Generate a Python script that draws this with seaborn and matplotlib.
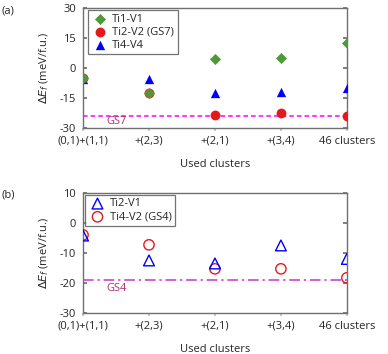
import matplotlib
matplotlib.use("Agg")
import matplotlib.pyplot as plt
import seaborn as sns
import pandas as pd

categories = ["(0,1)+(1,1)", "+(2,3)", "+(2,1)", "+(3,4)", "46 clusters"]

# panel (a)
a_ti1_v1 = [-5.0, -12.5, 4.5, 5.0, 12.5]
a_ti2_v2 = [-5.0, -12.5, -23.5, -22.5, -24.0]
a_ti4_v4 = [-5.5, -5.5, -12.5, -12.0, -10.0]
gs7_level = -24.0

# panel (b)
b_ti2_v1 = [-4.2, -12.5, -13.5, -7.5, -12.0]
b_ti4_v2 = [-4.0, -7.3, -15.3, -15.3, -18.3]
gs4_level = -19.0

sns.set_theme(style="white")
plt.rcParams['font.family'] = ['Open Sans', 'DejaVu Sans']
plt.rcParams['mathtext.fontset'] = 'dejavusans'

fig = plt.figure(figsize=(3.88, 3.54), dpi=100)
axA = fig.add_axes([0.214, 0.638, 0.680, 0.339])
axB = fig.add_axes([0.214, 0.116, 0.680, 0.339])

spine_col = "#707070"
fs = 8

def style_axes(ax, yticks):
    ax.set_xlim(0, 4)
    ax.set_xticks(range(len(categories)))
    ax.set_xticklabels(categories, fontsize=fs)
    ax.set_yticks(yticks)
    ax.set_yticklabels([str(t) for t in yticks], fontsize=fs)
    ax.set_ylim(yticks[0], yticks[-1])
    for s in ax.spines.values():
        s.set_color(spine_col)
        s.set_linewidth(1.0)
    ax.tick_params(axis='y', direction='in', length=3, color=spine_col,
                   left=True, right=True, pad=5)
    ax.tick_params(axis='x', direction='out', length=2, color="#c0c0c0",
                   bottom=True, pad=3.5)
    ax.set_xlabel("Used clusters", fontsize=fs, labelpad=9)
    ax.set_ylabel(r"$\Delta E_f$ (meV/f.u.)", fontsize=fs, labelpad=6)

# ---- panel (a)
dfa = pd.DataFrame({"cat": categories, "Ti1-V1": a_ti1_v1,
                    "Ti2-V2 (GS7)": a_ti2_v2, "Ti4-V4": a_ti4_v4})
axA.axhline(gs7_level, color="#ff00ff", lw=1.1, ls=(0, (3, 2)), zorder=1)
sns.scatterplot(data=dfa, x="cat", y="Ti4-V4", ax=axA, marker="^",
                color="#0000ff", s=45, linewidth=0, zorder=3, label="Ti4-V4")
sns.scatterplot(data=dfa, x="cat", y="Ti2-V2 (GS7)", ax=axA, marker="o",
                color="#e31a1c", s=50, linewidth=0, zorder=4, label="Ti2-V2 (GS7)")
sns.scatterplot(data=dfa, x="cat", y="Ti1-V1", ax=axA, marker="D",
                color="#4e9a3a", s=32, linewidth=0, zorder=5, label="Ti1-V1")
style_axes(axA, [-30, -15, 0, 15, 30])
axA.text(0.35, -27.8, "GS7", color="#b03070", fontsize=fs)
handles, labels = axA.get_legend_handles_labels()
order = [labels.index("Ti1-V1"), labels.index("Ti2-V2 (GS7)"), labels.index("Ti4-V4")]
legA = axA.legend([handles[i] for i in order], [labels[i] for i in order],
                  loc="upper left", bbox_to_anchor=(0.01, 1.0), fontsize=fs,
                  frameon=True, fancybox=False, edgecolor="#505050",
                  handletextpad=0.3, borderpad=0.3, labelspacing=0.2,
                  handlelength=1.6, borderaxespad=0.2)
legA.get_frame().set_linewidth(0.9)

# ---- panel (b)
dfb = pd.DataFrame({"cat": categories, "Ti2-V1": b_ti2_v1, "Ti4-V2 (GS4)": b_ti4_v2})
axB.axhline(gs4_level, color="#cc33cc", lw=1.1, ls=(0, (7, 2.5, 1.5, 2.5)), zorder=1)
sns.scatterplot(data=dfb, x="cat", y="Ti4-V2 (GS4)", ax=axB, marker="o",
                facecolors="none", edgecolor="#e31a1c", linewidth=1.0, s=55,
                zorder=3, label="Ti4-V2 (GS4)")
sns.scatterplot(data=dfb, x="cat", y="Ti2-V1", ax=axB, marker="^",
                facecolors="none", edgecolor="#0000ff", linewidth=1.0, s=60,
                zorder=4, label="Ti2-V1")
style_axes(axB, [-30, -20, -10, 0, 10])
axB.text(0.36, -22.6, "GS4", color="#b03070", fontsize=fs)
handles, labels = axB.get_legend_handles_labels()
order = [labels.index("Ti2-V1"), labels.index("Ti4-V2 (GS4)")]
legB = axB.legend([handles[i] for i in order], [labels[i] for i in order],
                  loc="upper left", bbox_to_anchor=(0.0, 1.0), fontsize=fs,
                  frameon=True, fancybox=False, edgecolor="#505050",
                  handletextpad=0.3, borderpad=0.3, labelspacing=0.2,
                  handlelength=1.6, borderaxespad=0.2)
legB.get_frame().set_linewidth(0.9)

fig.text(0.005, 0.985, "(a)", fontsize=fs, va="top", ha="left")
fig.text(0.005, 0.465, "(b)", fontsize=fs, va="top", ha="left")

fig.savefig("out.png", dpi=100)
